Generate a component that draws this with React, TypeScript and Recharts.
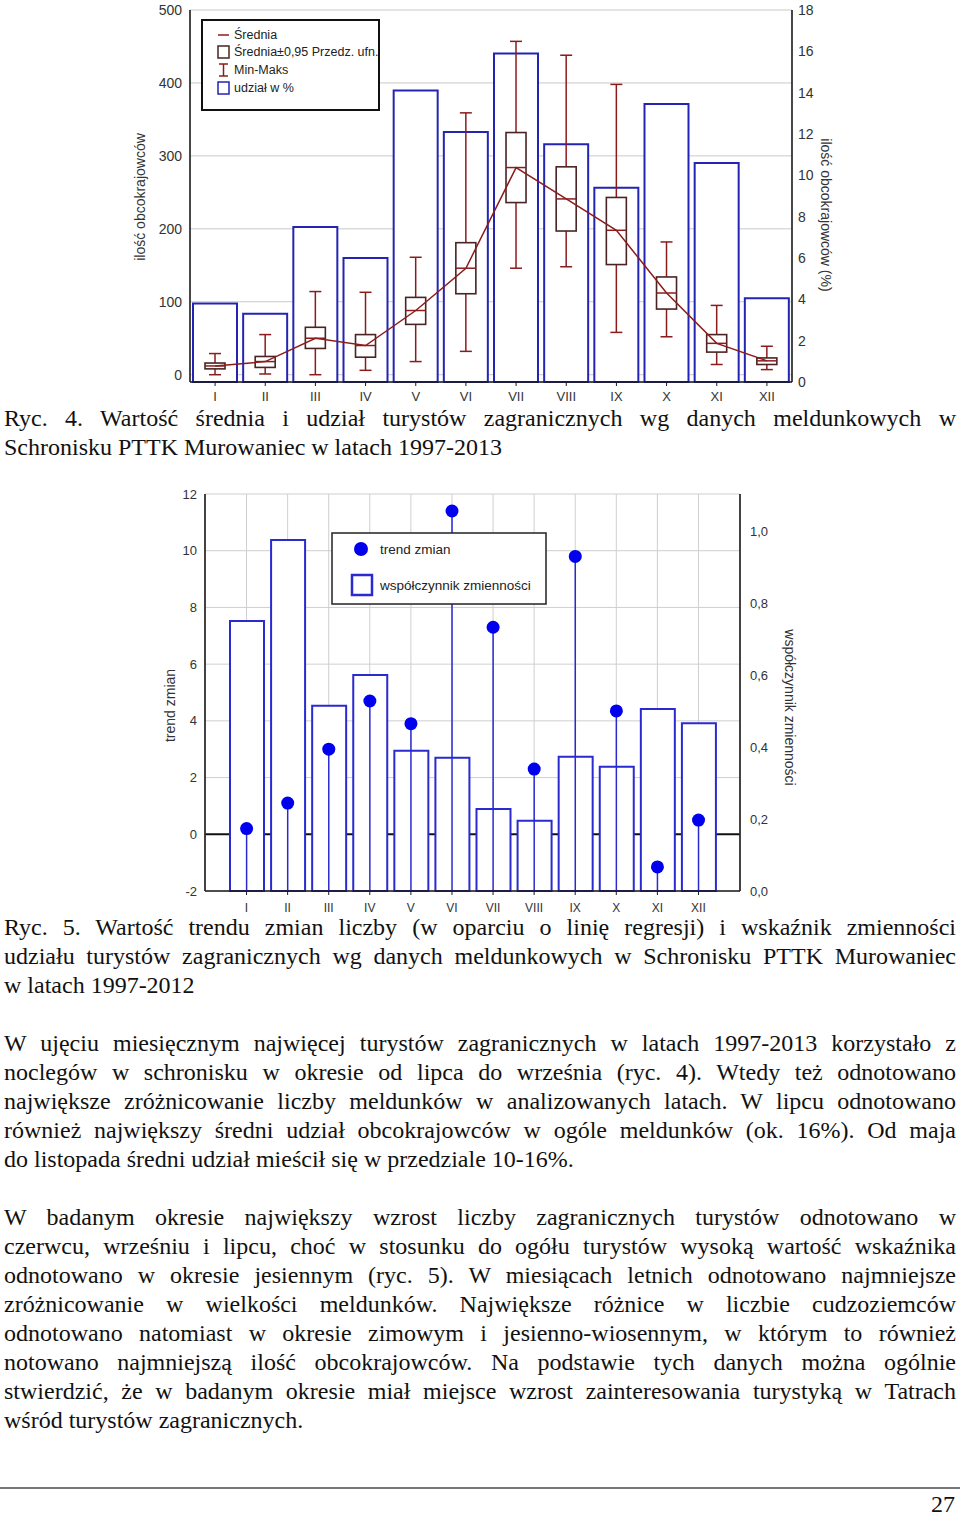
import React from 'react';
import { ComposedChart, Bar, Line, XAxis, YAxis, CartesianGrid } from 'recharts';

const months = ['I', 'II', 'III', 'IV', 'V', 'VI', 'VII', 'VIII', 'IX', 'X', 'XI', 'XII'];

// Ryc. 4 - udział w % (right axis) and box plots (left axis)
const sharePct = [3.8, 3.3, 7.5, 6.0, 14.1, 12.1, 15.9, 11.5, 9.4, 13.45, 10.6, 4.05];
const meanVal = [12, 18, 50, 40, 88, 146, 284, 241, 198, 112, 43, 19];
const ciLow = [8, 10, 36, 24, 69, 111, 236, 197, 151, 90, 31, 14];
const ciHigh = [16, 25, 65, 55, 106, 181, 332, 285, 243, 134, 55, 23];
const minVal = [0, 1, 0, 6, 18, 32, 146, 148, 58, 52, 14, 7];
const maxVal = [29, 55, 114, 113, 161, 359, 457, 438, 398, 182, 95, 39];
const leftTicks1 = [0, 100, 200, 300, 400, 500];
const rightTicks1 = [0, 2, 4, 6, 8, 10, 12, 14, 16, 18];

// Ryc. 5 - trend zmian (left axis) and współczynnik zmienności (right axis)
const trend = [0.2, 1.1, 3.0, 4.7, 3.9, 11.4, 7.3, 2.3, 9.8, 4.35, -1.15, 0.5];
const cv = [0.75, 0.975, 0.515, 0.6, 0.39, 0.37, 0.228, 0.195, 0.373, 0.345, 0.506, 0.466];
const leftTicks2 = [-2, 0, 2, 4, 6, 8, 10, 12];
const rightTicks2 = [0, 0.2, 0.4, 0.6, 0.8, 1.0];

const data1 = months.map((m, i) => ({
  m,
  share: sharePct[i],
  mean: meanVal[i],
  lo: ciLow[i],
  hi: ciHigh[i],
  min: minVal[i],
  max: maxVal[i],
}));

const data2 = months.map((m, i) => ({ m, trend: trend[i], cv: cv[i] }));

const SANS = '"Liberation Sans", Arial, sans-serif';
const SERIF = '"Liberation Serif", "Times New Roman", serif';
const DARKRED = '#8b1c1c';
const BOXLINE = '#4a2424';
const BLUE1 = '#2424b4';
const BLUE2 = '#2a2ad2';

const BoxShape = (props: any) => {
  const { x, y, width, height, payload } = props;
  const cx = x + width / 2;
  const top = Math.min(y, y + height);
  const h = Math.abs(height);
  const span = payload.max - payload.min || 1;
  const py = (v: number) => top + ((payload.max - v) / span) * h;
  const bw = 10;
  const cw = 6;
  return (
    <g>
      <line x1={cx} x2={cx} y1={py(payload.max)} y2={py(payload.hi)} stroke={DARKRED} strokeWidth={1.5} />
      <line x1={cx} x2={cx} y1={py(payload.lo)} y2={py(payload.min)} stroke={DARKRED} strokeWidth={1.5} />
      <line x1={cx - cw} x2={cx + cw} y1={py(payload.max)} y2={py(payload.max)} stroke={DARKRED} strokeWidth={1.5} />
      <line x1={cx - cw} x2={cx + cw} y1={py(payload.min)} y2={py(payload.min)} stroke={DARKRED} strokeWidth={1.5} />
      <rect x={cx - bw} y={py(payload.hi)} width={bw * 2} height={py(payload.lo) - py(payload.hi)} fill="none" stroke={BOXLINE} strokeWidth={1.6} />
      <line x1={cx - bw} x2={cx + bw} y1={py(payload.mean)} y2={py(payload.mean)} stroke={DARKRED} strokeWidth={1.5} />
    </g>
  );
};

const StemShape = (props: any) => {
  const { x, y, width, height } = props;
  const cx = x + width / 2;
  const top = Math.min(y, y + height);
  const bottom = Math.max(y, y + height);
  return (
    <g>
      <line x1={cx} x2={cx} y1={top} y2={bottom} stroke={BLUE2} strokeWidth={1.5} />
      <circle cx={cx} cy={top} r={6.5} fill="#0000ee" />
    </g>
  );
};

const AxisTitle = (props: any) => {
  const { viewBox, text, offX, offY, rot } = props;
  const cx = viewBox.x + offX;
  const cy = viewBox.y + viewBox.height / 2 + offY;
  return (
    <g transform={`translate(${cx} ${cy}) rotate(${rot})`}>
      <text x={0} y={0} textAnchor="middle" dominantBaseline="central" fontSize={14} fontFamily={SANS} fill="#333">
        {text}
      </text>
    </g>
  );
};

const frame = { stroke: '#1a1a1a', strokeWidth: 1.6 };
const yTick = { fontSize: 14, fill: '#333', fontFamily: SANS };
const xTick = { fontSize: 13, fill: '#333', fontFamily: SANS };

const Chart1 = () => (
  <ComposedChart width={960} height={410} data={data1} margin={{ top: 10, right: 108, bottom: 3, left: 130 }}>
    <CartesianGrid vertical={false} stroke="#c9c9c9" strokeWidth={1} />
    <XAxis dataKey="m" interval={0} height={25} tickSize={4} tickMargin={6} axisLine={frame} tickLine={{ stroke: '#1a1a1a' }} tick={xTick} />
    <XAxis dataKey="m" xAxisId="top" orientation="top" interval={0} height={0} tickSize={3} axisLine={frame} tickLine={{ stroke: '#1a1a1a' }} tickFormatter={() => ''} />
    <XAxis dataKey="m" xAxisId="box" hide />
    <YAxis
      domain={[-10, 500]}
      ticks={leftTicks1}
      width={60}
      tickSize={0}
      tickMargin={8}
      axisLine={frame}
      tickLine={false}
      tick={yTick}
      label={<AxisTitle text="ilość obcokrajowców" offX={10} offY={1} rot={-90} />}
    />
    <YAxis
      yAxisId="r"
      orientation="right"
      domain={[0, 18]}
      ticks={rightTicks1}
      width={60}
      tickSize={0}
      tickMargin={6}
      axisLine={frame}
      tickLine={false}
      tick={yTick}
      label={<AxisTitle text="ilość obcokrajowców (%)" offX={34} offY={19} rot={90} />}
    />
    <Bar dataKey="share" yAxisId="r" barSize={44} fill="#fff" stroke={BLUE1} strokeWidth={2} isAnimationActive={false} />
    <Bar dataKey={(d: any) => [d.min, d.max]} xAxisId="box" shape={BoxShape} isAnimationActive={false} />
    <Line dataKey="mean" type="linear" stroke={DARKRED} strokeWidth={1.5} dot={false} isAnimationActive={false} />
  </ComposedChart>
);

const gridLine = (p: any) => (
  <line
    key={p.key}
    x1={p.x1}
    x2={p.x2}
    y1={p.y1}
    y2={p.y2}
    stroke={p.index === 1 ? '#111' : '#cfcfcf'}
    strokeWidth={p.index === 1 ? 2 : 1}
  />
);

const Chart2 = () => (
  <ComposedChart width={960} height={440} data={data2} margin={{ top: 14, right: 150, bottom: 4, left: 145 }}>
    <CartesianGrid stroke="#cfcfcf" strokeWidth={1} horizontal={gridLine} />
    <XAxis dataKey="m" interval={0} height={25} padding={{ left: 21, right: 21 }} tickSize={4} tickMargin={8} axisLine={frame} tickLine={{ stroke: '#1a1a1a' }} tick={{ ...xTick, fontSize: 12 }} />
    <XAxis dataKey="m" xAxisId="top" orientation="top" interval={0} height={0} padding={{ left: 21, right: 21 }} tickSize={3} axisLine={frame} tickLine={{ stroke: '#1a1a1a' }} tickFormatter={() => ''} />
    <XAxis dataKey="m" xAxisId="pt" hide padding={{ left: 21, right: 21 }} />
    <YAxis
      domain={[-2, 12]}
      ticks={leftTicks2}
      width={60}
      tickSize={0}
      tickMargin={8}
      axisLine={frame}
      tickLine={false}
      tick={{ ...yTick, fontSize: 13 }}
      label={<AxisTitle text="trend zmian" offX={25} offY={13} rot={-90} />}
    />
    <YAxis
      yAxisId="r"
      orientation="right"
      domain={[0, 1.103]}
      ticks={rightTicks2}
      width={70}
      tickSize={0}
      tickMargin={10}
      axisLine={frame}
      tickLine={false}
      tick={{ ...yTick, fontSize: 13 }}
      tickFormatter={(v: number) => v.toFixed(1).replace('.', ',')}
      label={<AxisTitle text="współczynnik zmienności" offX={50} offY={15} rot={90} />}
    />
    <Bar dataKey="cv" yAxisId="r" barSize={34} fill="#fff" stroke={BLUE2} strokeWidth={2} isAnimationActive={false} />
    <Bar dataKey={(d: any) => [-2, d.trend]} xAxisId="pt" shape={StemShape} isAnimationActive={false} />
  </ComposedChart>
);

const Legend1 = () => (
  <svg style={{ position: 'absolute', left: 201, top: 19 }} width={180} height={93} fontFamily={SANS} fontSize={12.5}>
    <rect x={1} y={1} width={177} height={90} fill="#fff" stroke="#111" strokeWidth={2} />
    <line x1={17} x2={28} y1={16} y2={16} stroke={DARKRED} strokeWidth={1.5} />
    <text x={33} y={16} dominantBaseline="central" fill="#222">Średnia</text>
    <rect x={17} y={27} width={11} height={12} fill="none" stroke={BOXLINE} strokeWidth={1.5} />
    <text x={33} y={33} dominantBaseline="central" fill="#222">Średnia±0,95 Przedz. ufn.</text>
    <line x1={22.5} x2={22.5} y1={45} y2={57} stroke={DARKRED} strokeWidth={1.5} />
    <line x1={18} x2={27} y1={45} y2={45} stroke={DARKRED} strokeWidth={1.5} />
    <line x1={18} x2={27} y1={57} y2={57} stroke={DARKRED} strokeWidth={1.5} />
    <text x={33} y={51} dominantBaseline="central" fill="#222">Min-Maks</text>
    <rect x={17} y={63} width={11} height={12} fill="none" stroke={BLUE1} strokeWidth={1.5} />
    <text x={33} y={69} dominantBaseline="central" fill="#222">udział w %</text>
  </svg>
);

const Legend2 = () => (
  <svg style={{ position: 'absolute', left: 331, top: 532 }} width={217} height={74} fontFamily={SANS} fontSize={13.5}>
    <rect x={1} y={1} width={214} height={71} fill="#fff" stroke="#222" strokeWidth={1.5} />
    <circle cx={30} cy={17} r={7} fill="#0000ee" />
    <text x={49} y={17} dominantBaseline="central" fill="#222">trend zmian</text>
    <rect x={21} y={43} width={20} height={20} fill="#fff" stroke={BLUE2} strokeWidth={2.5} />
    <text x={49} y={53} dominantBaseline="central" fill="#222">współczynnik zmienności</text>
  </svg>
);

const caption1 = [
  'Ryc. 4. Wartość średnia i udział turystów zagranicznych wg danych meldunkowych w',
  'Schronisku PTTK Murowaniec w latach 1997-2013',
];

const caption2 = [
  'Ryc. 5. Wartość trendu zmian liczby (w oparciu o linię regresji) i wskaźnik zmienności',
  'udziału turystów zagranicznych wg danych meldunkowych w Schronisku PTTK Murowaniec',
  'w latach 1997-2012',
];

const para1 = [
  'W ujęciu miesięcznym najwięcej turystów zagranicznych w latach 1997-2013 korzystało z',
  'noclegów w schronisku w okresie od lipca do września (ryc. 4). Wtedy też odnotowano',
  'największe zróżnicowanie liczby meldunków w analizowanych latach. W lipcu odnotowano',
  'również największy średni udział obcokrajowców w ogóle meldunków (ok. 16%). Od maja',
  'do listopada średni udział mieścił się w przedziale 10-16%.',
];

const para2 = [
  'W badanym okresie największy wzrost liczby zagranicznych turystów odnotowano w',
  'czerwcu, wrześniu i lipcu, choć w stosunku do ogółu turystów wysoką wartość wskaźnika',
  'odnotowano w okresie jesiennym (ryc. 5). W miesiącach letnich odnotowano najmniejsze',
  'zróżnicowanie w wielkości meldunków. Największe różnice w liczbie cudzoziemców',
  'odnotowano natomiast w okresie zimowym i jesienno-wiosennym, w którym to również',
  'notowano najmniejszą ilość obcokrajowców. Na podstawie tych danych można ogólnie',
  'stwierdzić, że w badanym okresie miał miejsce wzrost zainteresowania turystyką w Tatrach',
  'wśród turystów zagranicznych.',
];

const TextBlock = ({ top, lines }: { top: number; lines: string[] }) => (
  <div
    style={{
      position: 'absolute',
      left: 4,
      top,
      width: 952,
      fontFamily: SERIF,
      fontSize: 24,
      lineHeight: '29px',
      color: '#111',
    }}
  >
    {lines.map((l, i) => (
      <div
        key={i}
        style={{
          whiteSpace: 'nowrap',
          textAlign: 'justify',
          textAlignLast: i < lines.length - 1 ? 'justify' : 'left',
        }}
      >
        {l}
      </div>
    ))}
  </div>
);

export default function App() {
  return (
    <div style={{ position: 'absolute', left: 0, top: 0, width: 960, height: 1517, background: '#fff', overflow: 'hidden' }}>
      <div style={{ position: 'absolute', left: 0, top: 0 }}>
        <Chart1 />
      </div>
      <Legend1 />
      <TextBlock top={404} lines={caption1} />
      <div style={{ position: 'absolute', left: 0, top: 480 }}>
        <Chart2 />
      </div>
      <Legend2 />
      <TextBlock top={913} lines={caption2} />
      <TextBlock top={1029} lines={para1} />
      <TextBlock top={1203} lines={para2} />
      <div style={{ position: 'absolute', left: 0, top: 1487, width: 960, height: 2, background: '#777' }} />
      <div style={{ position: 'absolute', right: 5, top: 1490, fontFamily: SERIF, fontSize: 24, lineHeight: '29px', color: '#111' }}>27</div>
    </div>
  );
}
